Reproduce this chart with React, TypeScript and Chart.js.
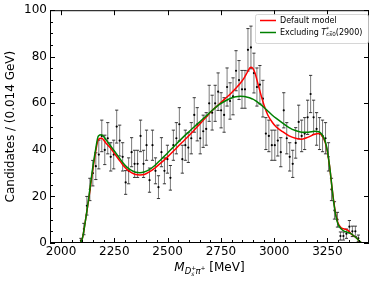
import React, { useEffect, useRef } from 'react';
import { Chart, registerables } from 'chart.js';

Chart.register(...registerables);

// ---- data ----
const binMass = [
  2051, 2065, 2079, 2093, 2107, 2121, 2135, 2149, 2163, 2177,
  2191, 2205, 2219, 2233, 2247, 2261, 2275, 2289, 2303, 2317,
  2331, 2345, 2359, 2373, 2387, 2401, 2415, 2429, 2443, 2457,
  2471, 2485, 2499, 2513, 2527, 2541, 2555, 2569, 2583, 2597,
  2611, 2625, 2639, 2653, 2667, 2681, 2695, 2709, 2723, 2737,
  2751, 2765, 2779, 2793, 2807, 2821, 2835, 2849, 2863, 2877,
  2891, 2905, 2919, 2933, 2947, 2961, 2975, 2989, 3003, 3017,
  3031, 3045, 3059, 3073, 3087, 3101, 3115, 3129, 3143, 3157,
  3171, 3185, 3199, 3213, 3227, 3241, 3255, 3269, 3283, 3297,
  3311, 3325, 3339, 3353, 3367, 3381, 3395, 3409, 3423,
];
const counts = [
  0, 0, 0, 1, 6, 16, 23, 30, 33, 38,
  46, 40, 45, 37, 38, 50, 44, 37, 26, 31,
  39, 34, 34, 46, 34, 42, 27, 42, 31, 24,
  39, 31, 36, 28, 42, 45, 51, 36, 42, 41,
  45, 55, 51, 45, 48, 49, 60, 56, 60, 65,
  57, 55, 67, 61, 63, 74, 70, 66, 66, 83,
  84, 73, 67, 68, 62, 47, 46, 42, 42, 44,
  39, 57, 45, 37, 34, 43, 52, 46, 47, 54,
  64, 54, 49, 47, 46, 45, 37, 23, 14, 10,
  3, 3, 4, 7, 5, 5, 2, 0, 0,
];
const curveMass = [
  2090, 2100, 2115, 2130, 2145, 2160, 2175, 2190, 2210, 2230,
  2250, 2270, 2290, 2310, 2330, 2350, 2370, 2390, 2410, 2440,
  2470, 2500, 2530, 2560, 2590, 2620, 2650, 2680, 2710, 2740,
  2770, 2800, 2820, 2840, 2860, 2875, 2890, 2900, 2910, 2925,
  2940, 2955, 2970, 2990, 3010, 3040, 3070, 3100, 3130, 3160,
  3190, 3210, 3225, 3240, 3250, 3260, 3270, 3280, 3290, 3300,
  3315, 3330, 3345, 3360, 3375, 3390, 3400, 3410,
];
const defaultModel = [
  0, 2, 10, 19, 29, 38, 44.5, 45, 43, 41,
  38.5, 36, 33.5, 31.5, 30.2, 29.4, 29.2, 29.4, 30.3, 32.2,
  34.5, 37, 39.7, 42.5, 45.2, 48, 51, 54, 57, 59.5,
  62, 64.5, 66.5, 68.5, 71, 73.5, 75.5, 75, 73, 68,
  63, 58.5, 55, 52, 49.8, 47.8, 46, 45, 44.6, 45.5,
  46.7, 47, 46, 43, 39, 33, 25, 17.5, 12, 8.5,
  6.5, 6, 5.5, 4, 3, 1.8, 0.8, 0,
];
const excludingModel = [
  0, 2, 10, 19.5, 30, 39, 46, 46.5, 44.5, 42,
  39.5, 37, 34.5, 32.5, 31.2, 30.4, 30.2, 30.5, 31.3, 33.3,
  36, 38.7, 41.5, 44.3, 47, 49.5, 52, 54.5, 57, 59.3,
  61, 62.3, 62.8, 63, 62.9, 62.6, 62.2, 61.8, 61.3, 60.3,
  59.2, 58, 56.7, 55, 53.5, 51.5, 49.6, 48.3, 47.6, 47.6,
  48, 47.8, 46.5, 43.5, 39.5, 33, 25, 17, 11.5, 8,
  6, 5, 4.6, 4, 3, 1.8, 0.8, 0,
];
const xTicks = [2000, 2250, 2500, 2750, 3000, 3250];
const xMinorTicks = [
  2050, 2100, 2150, 2200, 2300, 2350, 2400, 2450, 2550, 2600, 2650, 2700,
  2800, 2850, 2900, 2950, 3050, 3100, 3150, 3200, 3300, 3350, 3400,
];
const yTicks = [0, 20, 40, 60, 80, 100];
const yMinorTicks = [5, 10, 15, 25, 30, 35, 45, 50, 55, 65, 70, 75, 85, 90, 95];
const seriesLabels = ['Default model', 'Excluding'];

const FONT = "'DejaVu Sans', sans-serif";

const drawPieces = (ctx: CanvasRenderingContext2D, x0: number, y0: number, pieces: any[], draw: boolean) => {
  let x = x0;
  for (const p of pieces) {
    ctx.font = `${p.italic ? 'italic ' : ''}${p.size}px ${FONT}`;
    const w = ctx.measureText(p.text).width;
    if (draw) {
      ctx.fillText(p.text, x, y0 + (p.dy || 0));
      if (p.overline) {
        ctx.beginPath();
        ctx.lineWidth = 0.5;
        ctx.moveTo(x + 0.5, y0 + p.dy - p.size * 0.62);
        ctx.lineTo(x + w, y0 + p.dy - p.size * 0.62);
        ctx.stroke();
      }
    }
    if (!p.noAdvance) x += w + (p.gap || 0);
  }
  return x - x0;
};

const customPlugin = {
  id: 'hepDecor',
  beforeDatasetsDraw(chart: any) {
    const { ctx, chartArea: a } = chart;
    const xs = chart.scales.x;
    const ys = chart.scales.y;
    ctx.save();
    ctx.beginPath();
    ctx.rect(a.left, a.top, a.right - a.left, a.bottom - a.top);
    ctx.clip();
    binMass.forEach((m, i) => {
      const v = counts[i];
      const e = Math.sqrt(v);
      const px = xs.getPixelForValue(m);
      const top = ys.getPixelForValue(v + e);
      const bot = ys.getPixelForValue(v - e);
      ctx.strokeStyle = '#7a7a7a';
      ctx.lineWidth = 1;
      ctx.beginPath();
      ctx.moveTo(px, top);
      ctx.lineTo(px, bot);
      ctx.stroke();
      ctx.strokeStyle = '#222';
      ctx.lineWidth = 0.9;
      ctx.beginPath();
      ctx.moveTo(px - 1.6, top);
      ctx.lineTo(px + 1.6, top);
      ctx.moveTo(px - 1.6, bot);
      ctx.lineTo(px + 1.6, bot);
      ctx.stroke();
    });
    ctx.restore();
  },
  afterDraw(chart: any) {
    const { ctx, chartArea: a } = chart;
    const xs = chart.scales.x;
    const ys = chart.scales.y;
    ctx.save();
    // frame
    ctx.strokeStyle = '#000';
    ctx.lineWidth = 1;
    ctx.strokeRect(a.left + 0.5, a.top + 0.5, a.right - a.left - 1, a.bottom - a.top - 1);
    // ticks
    ctx.beginPath();
    xTicks.forEach((t) => {
      const px = Math.round(xs.getPixelForValue(t)) + 0.5;
      ctx.moveTo(px, a.bottom);
      ctx.lineTo(px, a.bottom - 5);
      ctx.moveTo(px, a.top);
      ctx.lineTo(px, a.top + 5);
    });
    xMinorTicks.forEach((t) => {
      const px = Math.round(xs.getPixelForValue(t)) + 0.5;
      ctx.moveTo(px, a.bottom);
      ctx.lineTo(px, a.bottom - 3);
    });
    yTicks.forEach((t) => {
      const py = Math.round(ys.getPixelForValue(t)) + 0.5;
      ctx.moveTo(a.left, py);
      ctx.lineTo(a.left + 5, py);
      ctx.moveTo(a.right, py);
      ctx.lineTo(a.right - 5, py);
    });
    yMinorTicks.forEach((t) => {
      const py = Math.round(ys.getPixelForValue(t)) + 0.5;
      ctx.moveTo(a.left, py);
      ctx.lineTo(a.left + 3, py);
    });
    ctx.stroke();

    // x-axis title: M_{D_s^+ pi^+} [MeV]
    ctx.fillStyle = '#000';
    ctx.strokeStyle = '#000';
    ctx.textBaseline = 'alphabetic';
    ctx.textAlign = 'left';
    const xPieces = [
      { text: 'M', size: 12, italic: true },
      { text: 'D', size: 8.5, italic: true, dy: 3 },
      { text: '+', size: 6, dy: -1.5, noAdvance: true },
      { text: 's', size: 6, italic: true, dy: 5, gap: 1 },
      { text: 'π', size: 8.5, italic: true, dy: 3 },
      { text: '+', size: 6, dy: -1.5 },
      { text: ' [MeV]', size: 12 },
    ];
    const cx = (a.left + a.right) / 2;
    const wX = drawPieces(ctx, 0, 0, xPieces, false);
    drawPieces(ctx, cx - wX / 2, 271, xPieces, true);

    // legend
    const lx = 255.5, ly = 14.5, lw = 113, lh = 29;
    ctx.beginPath();
    ctx.roundRect(lx, ly, lw, lh, 2);
    ctx.fillStyle = 'rgba(255,255,255,0.85)';
    ctx.fill();
    ctx.strokeStyle = '#cccccc';
    ctx.lineWidth = 0.8;
    ctx.stroke();
    ctx.lineWidth = 1.5;
    ctx.strokeStyle = '#ff0000';
    ctx.beginPath();
    ctx.moveTo(260, 20.5);
    ctx.lineTo(276, 20.5);
    ctx.stroke();
    ctx.strokeStyle = '#008000';
    ctx.beginPath();
    ctx.moveTo(260, 32.5);
    ctx.lineTo(276, 32.5);
    ctx.stroke();
    ctx.fillStyle = '#000';
    ctx.strokeStyle = '#000';
    ctx.textBaseline = 'middle';
    ctx.font = `8px ${FONT}`;
    ctx.fillText(seriesLabels[0], 280, 21);
    const lPieces = [
      { text: seriesLabels[1] + ' ', size: 8 },
      { text: 'T', size: 8, italic: true },
      { text: '*', size: 5.6, dy: -3, noAdvance: true },
      { text: 'c', size: 5.6, italic: true, dy: 2 },
      { text: 's', size: 5.6, italic: true, dy: 2, overline: true },
      { text: '0', size: 5.6, dy: 2 },
      { text: '(2900)', size: 8 },
    ];
    drawPieces(ctx, 280, 33, lPieces, true);
    ctx.restore();
  },
};

export default function App() {
  const canvasRef = useRef<HTMLCanvasElement | null>(null);

  useEffect(() => {
    if (!canvasRef.current) return;
    const dataPoints = binMass.map((m, i) => ({ x: m, y: counts[i] }));
    const redLine = curveMass.map((m, i) => ({ x: m, y: defaultModel[i] }));
    const greenLine = curveMass.map((m, i) => ({ x: m, y: excludingModel[i] }));
    const chart = new Chart(canvasRef.current, {
      type: 'line',
      data: {
        datasets: [
          {
            label: seriesLabels[1],
            data: greenLine,
            borderColor: '#008000',
            borderWidth: 1.5,
            pointRadius: 0,
            cubicInterpolationMode: 'monotone',
            fill: false,
          },
          {
            label: seriesLabels[0],
            data: redLine,
            borderColor: '#ff0000',
            borderWidth: 1.5,
            pointRadius: 0,
            cubicInterpolationMode: 'monotone',
            fill: false,
          },
          {
            label: 'Data',
            data: dataPoints,
            showLine: false,
            pointRadius: 1.1,
            pointBackgroundColor: '#000',
            pointBorderWidth: 0,
          },
        ],
      } as any,
      plugins: [customPlugin],
      options: {
        animation: false,
        responsive: false,
        devicePixelRatio: 1,
        events: [],
        layout: { padding: { top: 10, right: 5, left: 0, bottom: 0 } },
        plugins: { legend: { display: false }, tooltip: { enabled: false } },
        scales: {
          x: {
            type: 'linear',
            min: 1948,
            max: 3445,
            afterBuildTicks: (s: any) => {
              s.ticks = xTicks.map((v) => ({ value: v }));
            },
            afterFit: (s: any) => {
              s.height = 41;
            },
            ticks: {
              autoSkip: false,
              maxRotation: 0,
              padding: 2,
              color: '#000',
              font: { family: FONT, size: 12 },
              callback: (v: any) => String(v),
            },
            grid: { display: false, drawTicks: false },
            border: { display: false },
          },
          y: {
            type: 'linear',
            min: 0,
            max: 100,
            afterBuildTicks: (s: any) => {
              s.ticks = yTicks.map((v) => ({ value: v }));
            },
            afterFit: (s: any) => {
              s.width = 50;
            },
            ticks: {
              padding: 3,
              color: '#000',
              font: { family: FONT, size: 12 },
              callback: (v: any) => String(v),
            },
            title: {
              display: true,
              text: 'Candidates / (0.014 GeV)',
              color: '#000',
              font: { family: FONT, size: 12 },
              padding: { top: 4, bottom: 0 },
            },
            grid: { display: false, drawTicks: false },
            border: { display: false },
          },
        },
      } as any,
    });
    return () => chart.destroy();
  }, []);

  return (
    <div style={{ position: 'fixed', left: 0, top: 0, width: 374, height: 284, background: '#fff' }}>
      <canvas ref={canvasRef} width={374} height={284} style={{ width: 374, height: 284, display: 'block' }} />
    </div>
  );
}
